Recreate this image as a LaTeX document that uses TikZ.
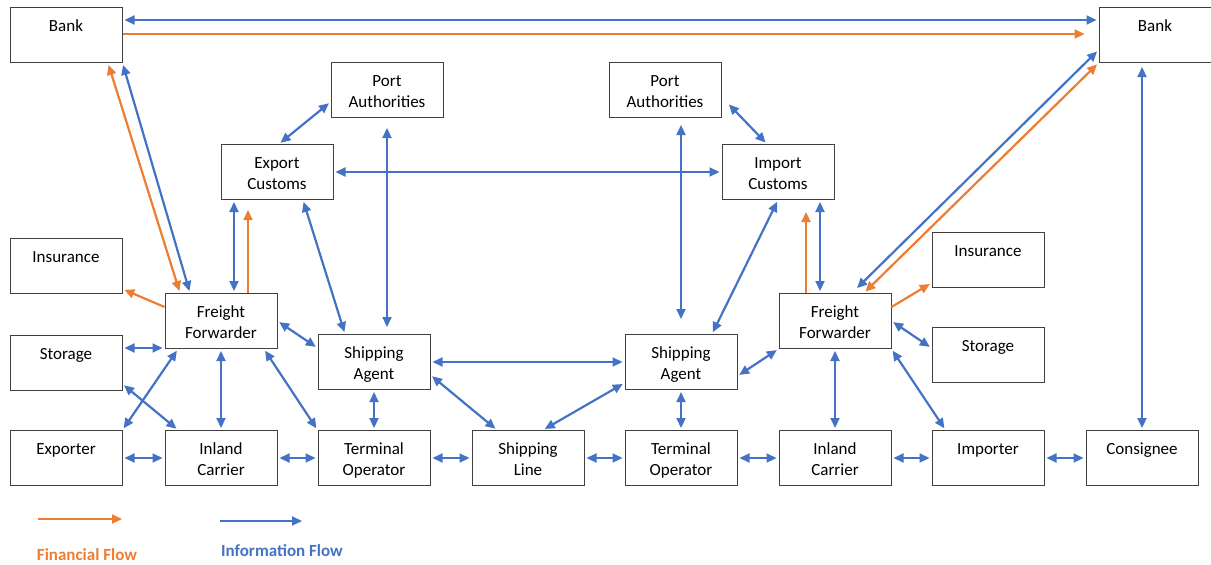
\documentclass[tikz,border=0pt]{standalone}
\usepackage{fontspec}
\setmainfont{Carlito}
\usepackage{tikz}
\usetikzlibrary{arrows.meta, positioning, calc}
\definecolor{flowblue}{HTML}{4472C4}
\definecolor{floworange}{HTML}{ED7D31}
\definecolor{boxline}{HTML}{404040}

\tikzset{
  party/.style={draw=boxline, line width=1pt, fill=white, minimum width=112pt, minimum height=55pt,
    text width=108pt, align=center, inner sep=0pt, text height=24pt, text depth=31pt,
    font=\fontsize{17}{21}\selectfont},
  info/.style={flowblue, line width=2.2pt, {Triangle[length=10pt,width=9pt]}-{Triangle[length=10pt,width=9pt]}, shorten <=2pt, shorten >=2pt},
  infoone/.style={flowblue, line width=2.2pt, -{Triangle[length=10pt,width=9pt]}},
  money/.style={floworange, line width=2.2pt, {Triangle[length=10pt,width=9pt]}-{Triangle[length=10pt,width=9pt]}, shorten <=2pt, shorten >=2pt},
  moneyone/.style={floworange, line width=2.2pt, -{Triangle[length=10pt,width=9pt]}, shorten >=2pt},
  legendtext/.style={font=\fontsize{17}{17}\selectfont\bfseries}
}

\begin{document}
\begin{tikzpicture}[x=1pt, y=-1pt]
  \useasboundingbox (0,0) rectangle (1211,565);

  % Banks
  \node[party] (bankL) at (66,35) {Bank};
  \node[party] (bankR) at (1155,35) {Bank};

  % Authorities and customs
  \node[party] (portL) at (387,90) {Port\\Authorities};
  \node[party] (portR) at (665,90) {Port\\Authorities};
  \node[party] (expCust) at (277,172) {Export\\Customs};
  \node[party] (impCust) at (778,172) {Import\\Customs};

  % Middle rows
  \node[party] (insL) at (66,266) {Insurance};
  \node[party] (ffL) at (221,321) {Freight\\Forwarder};
  \node[party] (stoL) at (66,363) {Storage};
  \node[party] (agentL) at (374,362) {Shipping\\Agent};
  \node[party] (agentR) at (681,362) {Shipping\\Agent};
  \node[party] (ffR) at (835,321) {Freight\\Forwarder};
  \node[party] (insR) at (988,260) {Insurance};
  \node[party] (stoR) at (988,355) {Storage};

  % Bottom row
  \node[party] (exporter) at (66,458) {Exporter};
  \node[party] (inlandL) at (221,458) {Inland\\Carrier};
  \node[party] (termL) at (374,458) {Terminal\\Operator};
  \node[party] (shipLine) at (528,458) {Shipping\\Line};
  \node[party] (termR) at (681,458) {Terminal\\Operator};
  \node[party] (inlandR) at (835,458) {Inland\\Carrier};
  \node[party] (importer) at (988,458) {Importer};
  \node[party] (consignee) at (1142,458) {Consignee};

  % Bank to bank
  \draw[info] ([yshift=15pt]bankL.east) -- ([yshift=15pt]bankR.west);
  \draw[moneyone, shorten >=14pt] ([yshift=1pt]bankL.east) -- ([yshift=1pt]bankR.west);

  % Export side
  \draw[money] ([xshift=-41pt]ffL.north) -- ([xshift=42pt]bankL.south);
  \draw[info] ([xshift=-31pt]ffL.north) -- (bankL.south east);
  \draw[info] ([xshift=13pt]ffL.north) -- ([xshift=-43pt]expCust.south);
  \draw[moneyone, shorten >=10pt] ([xshift=27pt]ffL.north) -- ([xshift=-29pt]expCust.south);
  \draw[moneyone] ([yshift=14pt]ffL.west) -- ([yshift=5pt]insL.south east);
  \draw[info] ([yshift=15pt]stoL.east) -- ([yshift=15pt]stoL.east -| ffL.west);
  \draw[info] ([xshift=-43pt]ffL.south) -- (exporter.north east);
  \draw[info] ([yshift=7pt]stoL.south east) -- ([xshift=-43pt]inlandL.north);
  \draw[info] (ffL.south) -- (inlandL.north);
  \draw[info] ([xshift=43pt]ffL.south) -- (termL.north west);
  \draw[info] (ffL.east) -- ([yshift=14pt]agentL.west);
  \draw[info] ([xshift=26pt]expCust.south) -- ([xshift=-29pt]agentL.north);
  \draw[info] ([xshift=2pt]expCust.north) -- ([yshift=-12pt]portL.west);
  \draw[info] (expCust.east) -- (impCust.west);
  \draw[info, shorten <=10pt, shorten >=7pt] (portL.south) -- (portL.south |- agentL.north);
  \draw[info] (agentL.south) -- (termL.north);

  % Sea leg
  \draw[info] (agentL.east) -- (agentR.west);
  \draw[info] ([yshift=-13pt]agentL.east) -- ([xshift=-31pt]shipLine.north);
  \draw[info] ([yshift=-21pt]agentR.west) -- ([xshift=15pt]shipLine.north);

  % Bottom row links
  \draw[info] (exporter.east) -- (inlandL.west);
  \draw[info] (inlandL.east) -- (termL.west);
  \draw[info] (termL.east) -- (shipLine.west);
  \draw[info] (shipLine.east) -- (termR.west);
  \draw[info] (termR.east) -- (inlandR.west);
  \draw[info] (inlandR.east) -- (importer.west);
  \draw[info] (importer.east) -- (consignee.west);

  % Import side
  \draw[info, shorten <=7pt, shorten >=15pt] (agentR.north |- portR.south) -- (agentR.north);
  \draw[info] (impCust.south) -- ([xshift=31pt]agentR.north);
  \draw[info] ([xshift=6pt, yshift=-13pt]portR.east) -- ([xshift=-11pt]impCust.north);
  \draw[info] (agentR.south) -- (termR.north);
  \draw[info] (ffR.south west) -- ([yshift=-14pt]agentR.east);
  \draw[moneyone, shorten >=12pt] ([xshift=-29pt]ffR.north) -- ([xshift=28pt]impCust.south);
  \draw[info] ([xshift=-15pt]ffR.north) -- ([xshift=42pt]impCust.south);
  \draw[info, shorten <=7pt] ([xshift=17pt]ffR.north) -- ([yshift=-15pt]bankR.west);
  \draw[money] ([xshift=29pt]ffR.north) -- (bankR.south west);
  \draw[moneyone] ([yshift=14pt]ffR.east) -- ([yshift=-23pt]insR.west);
  \draw[info] (ffR.east) -- ([yshift=7pt]stoR.west);
  \draw[info] (ffR.south) -- (inlandR.north);
  \draw[info] (ffR.south east) -- ([xshift=14pt]importer.north west);
  \draw[info, shorten <=4pt] (consignee.north |- bankR.south) -- (consignee.north);

  % Legend
  \coordinate (finA) at (38,519);
  \coordinate (finB) at (122,519);
  \coordinate (infA) at (220,521);
  \coordinate (infB) at (302,521);
  \draw[moneyone, shorten >=0pt] (finA) -- (finB);
  \draw[infoone] (infA) -- (infB);
  \node[legendtext, floworange] (finLabel) at (87,555) {Financial Flow};
  \node[legendtext, flowblue] (infLabel) at (282,551) {Information Flow};
\end{tikzpicture}
\end{document}
